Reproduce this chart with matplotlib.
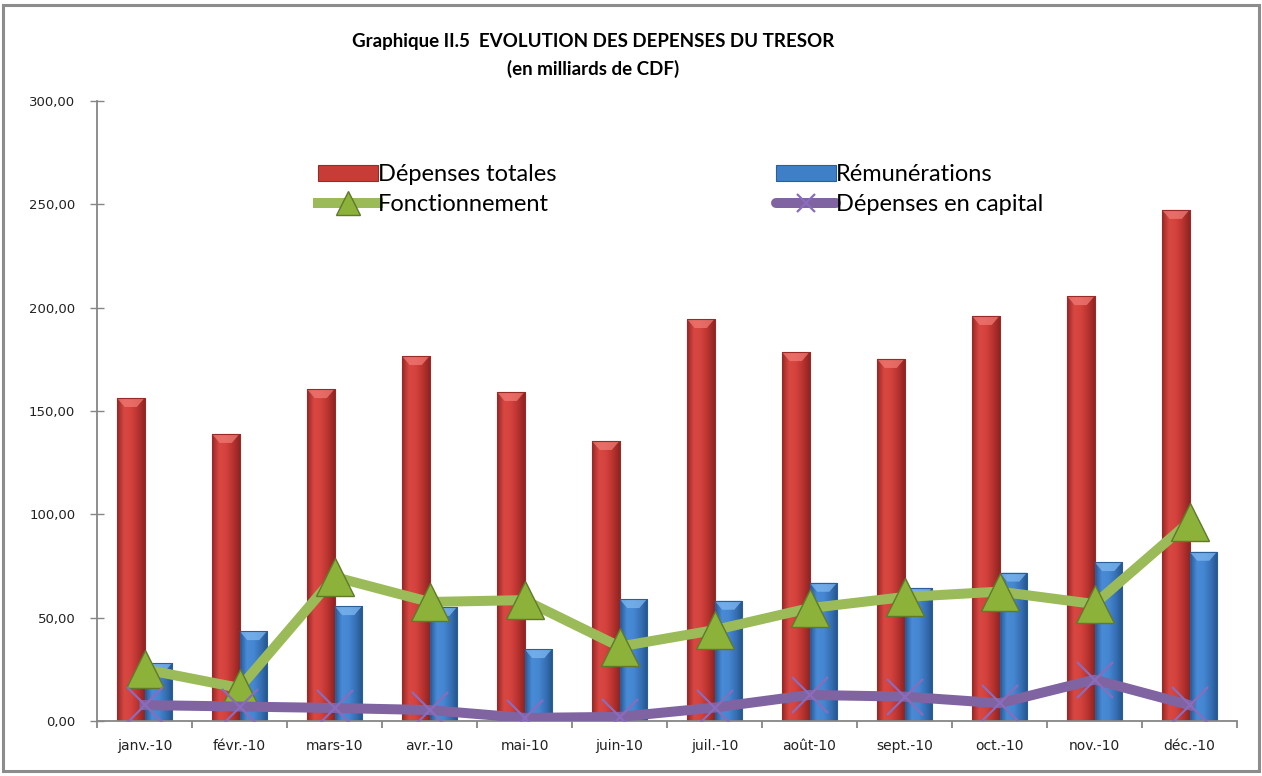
import matplotlib
matplotlib.use("Agg")
import matplotlib.pyplot as plt
import numpy as np
from matplotlib.colors import LinearSegmentedColormap
from matplotlib.patches import Patch, Rectangle, Polygon
from matplotlib.lines import Line2D

months = ["janv.-10", "févr.-10", "mars-10", "avr.-10", "mai-10", "juin-10",
          "juil.-10", "août-10", "sept.-10", "oct.-10", "nov.-10", "déc.-10"]
depenses_totales = [156.3, 138.9, 160.6, 176.6, 159.2, 135.5, 194.5, 178.5, 175.2, 196.0, 205.6, 247.3]
remunerations = [28.0, 43.5, 55.6, 55.2, 34.8, 59.0, 58.2, 66.9, 64.4, 71.8, 76.9, 81.9]
fonctionnement = [25.0, 16.0, 69.7, 57.6, 58.5, 36.0, 44.0, 54.6, 60.0, 62.6, 56.6, 96.4]
depenses_capital = [7.7, 7.0, 6.3, 5.3, 1.5, 2.0, 6.5, 12.6, 11.8, 8.6, 20.0, 7.7]
yticks = [0, 50, 100, 150, 200, 250, 300]
ytick_labels = ["0,00", "50,00", "100,00", "150,00", "200,00", "250,00", "300,00"]

W, H = 1262, 776
fig = plt.figure(figsize=(W / 100, H / 100), dpi=100)
fig.patch.set_facecolor("white")

ax = fig.add_axes([97 / W, 1 - 721 / H, (1237 - 97) / W, (721 - 101) / H])
x = np.arange(len(months))
bw = 0.29

red_bars = ax.bar(x - bw / 2, depenses_totales, bw, color="#C83C38", edgecolor="#9A2A28",
                  linewidth=0.6, zorder=2)
blue_bars = ax.bar(x + bw / 2, remunerations, bw, color="#3F7FC8", edgecolor="#2C5E98",
                   linewidth=0.6, zorder=2)

grad = np.linspace(0, 1, 128).reshape(1, -1)
px_per_unit = (721 - 101) / 300.0


def gradient_bars(bars, colors, top_color):
    cmap = LinearSegmentedColormap.from_list("g", colors)
    for b in bars:
        x0, y0 = b.get_x(), b.get_y()
        w, h = b.get_width(), b.get_height()
        im = ax.imshow(grad, cmap=cmap, aspect="auto", extent=(x0, x0 + w, y0, y0 + h),
                       zorder=2.1, interpolation="bicubic")
        im.set_clip_path(b)
        bev = 9 / px_per_unit
        poly = Polygon([(x0, y0 + h), (x0 + w, y0 + h), (x0 + w * 0.72, y0 + h - bev),
                        (x0 + w * 0.28, y0 + h - bev)], closed=True,
                       facecolor=top_color, edgecolor="none", alpha=0.75, zorder=2.2)
        ax.add_patch(poly)
        edge = Rectangle((x0, y0), w, h, facecolor="none", edgecolor=b.get_edgecolor(),
                         linewidth=0.8, zorder=2.3)
        ax.add_patch(edge)


gradient_bars(red_bars, ["#962624", "#D94843", "#D5423E", "#B8332F", "#8E2422"], "#F07A74")
gradient_bars(blue_bars, ["#265A96", "#4A8BD6", "#4586D2", "#3670B4", "#23538C"], "#7FB8F0")

ax.plot(x, fonctionnement, color="#9BBB59", linewidth=7.2, zorder=4,
        solid_joinstyle="miter", marker="^", markersize=27, markerfacecolor="#8CB23A",
        markeredgecolor="#60792A", markeredgewidth=1.0)
ax.plot(x, depenses_capital, color="#8064A2", linewidth=7.2, zorder=5,
        solid_joinstyle="round", marker="x", markersize=26, markeredgecolor="#8A6CBC",
        markeredgewidth=1.6)

ax.set_xlim(-0.5, len(months) - 0.5)
ax.set_ylim(0, 300)
ax.set_yticks(yticks)
ax.set_yticklabels(ytick_labels)
ax.set_xticks(x)
ax.set_xticklabels(months)
ax.set_xticks(np.arange(len(months) + 1) - 0.5, minor=True)

for s in ["top", "right"]:
    ax.spines[s].set_visible(False)
for s in ["left", "bottom"]:
    ax.spines[s].set_color("#868686")
    ax.spines[s].set_linewidth(1.3)

ax.tick_params(axis="y", direction="inout", length=9.4, width=1.0, color="#868686",
               pad=11, labelsize=9.5, labelcolor="#222222")
ax.tick_params(axis="x", which="major", length=0, pad=13, labelsize=10, labelcolor="#222222")
ax.tick_params(axis="x", which="minor", direction="out", length=5, width=1.3, color="#868686")
for lab in ax.get_yticklabels() + ax.get_xticklabels():
    lab.set_fontfamily("DejaVu Sans")

# Title
title_font = ["Lato", "DejaVu Sans"]
fig.text(593 / W, 1 - 42 / H, "Graphique II.5  EVOLUTION DES DEPENSES DU TRESOR",
         ha="center", va="center", fontsize=13.5, fontweight="bold", family=title_font)
fig.text(593 / W, 1 - 69 / H, "(en milliards de CDF)",
         ha="center", va="center", fontsize=13.5, fontweight="bold", family=title_font)

# Legends
leg_font = {"family": ["Lato", "DejaVu Sans"], "size": 17}
h_red = Patch(facecolor="#C83C38", edgecolor="#9A2A28", linewidth=0.8)
h_blue = Patch(facecolor="#3F7FC8", edgecolor="#2C5E98", linewidth=0.8)
h_green = Line2D([], [], color="#9BBB59", linewidth=7.2, marker="^", markersize=17,
                 markerfacecolor="#8CB23A", markeredgecolor="#60792A", markeredgewidth=1.0)
h_purple = Line2D([], [], color="#8064A2", linewidth=7.2, solid_capstyle="round", marker="x",
                  markersize=13, markeredgecolor="#8A6CBC", markeredgewidth=1.6)

common = dict(frameon=False, loc="upper left", borderpad=0, borderaxespad=0,
              handlelength=2.55, handletextpad=0.0, labelspacing=0.37, numpoints=1,
              handleheight=0.65, prop=leg_font)
leg1 = fig.legend([h_red, h_green], ["Dépenses totales", "Fonctionnement"],
                  bbox_to_anchor=(318 / W, 1 - 164 / H), **common)
leg2 = fig.legend([h_blue, h_purple], ["Rémunérations", "Dépenses en capital"],
                  bbox_to_anchor=(776 / W, 1 - 164 / H), **common)

# Figure border
fig.patches.append(Rectangle((3 / W, 5 / H), (1259 - 3) / W, (771 - 5) / H,
                             transform=fig.transFigure, facecolor="none",
                             edgecolor="#8C8C8C", linewidth=2.2, zorder=0))

fig.savefig("out.png", dpi=100)
